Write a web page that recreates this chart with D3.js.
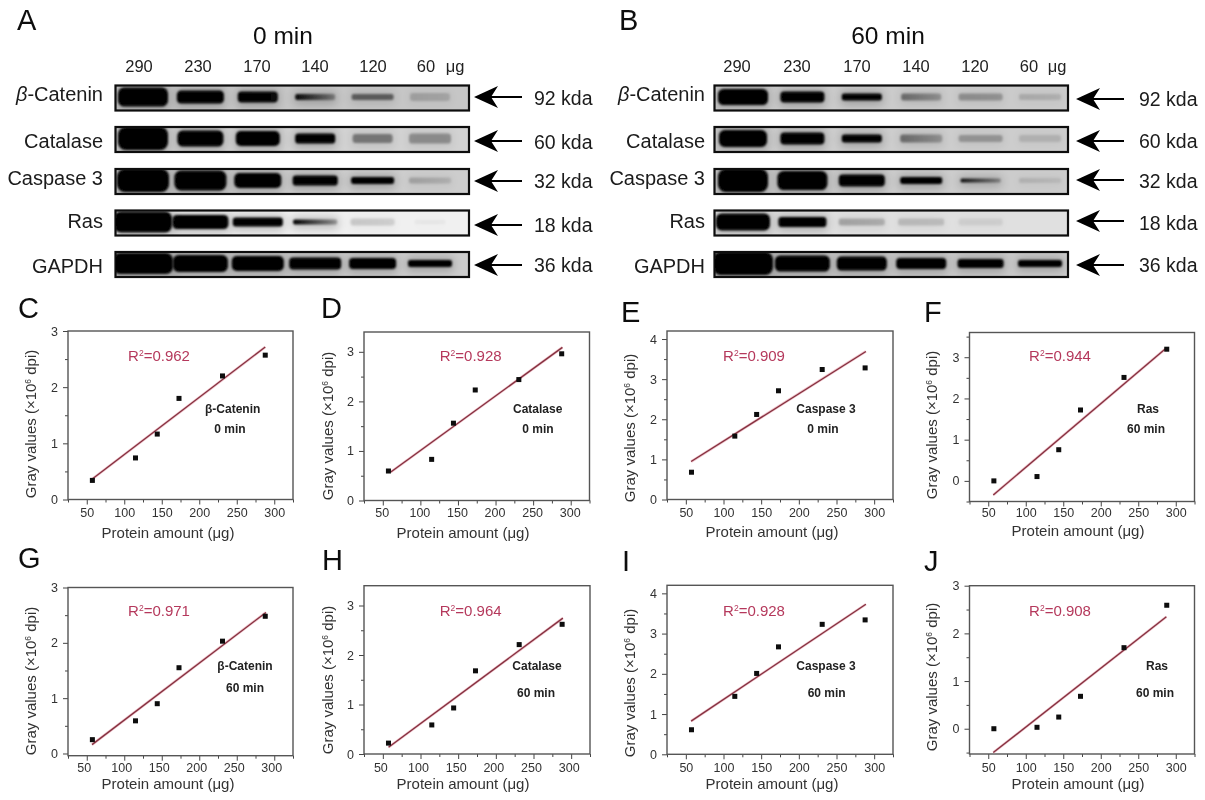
<!DOCTYPE html>
<html><head><meta charset="utf-8">
<script src="https://cdnjs.cloudflare.com/ajax/libs/d3/7.8.5/d3.min.js"></script>
<style>html,body{margin:0;padding:0;background:#fff}svg{display:block}text{font-family:"Liberation Sans",Arial,sans-serif}</style>
</head><body><div id="c"></div>
<script>
// ---------- Western blot data (lanes, targets, band readings) ----------
const lanes = ["290","230","170","140","120","60"];
const targets = ["β-Catenin","Catalase","Caspase 3","Ras","GAPDH"];
const weights = ["92 kda","60 kda","32 kda","18 kda","36 kda"];
const blotGray = ["#c6c6c6","#d2d2d2","#cdcdcd","#f0f0f0","#cccccc"];
const blotGrayB = ["#cbcbcb","#cdcdcd","#cccccc","#e0e0e0","#cacaca"];
// band width, thickness, darkness at left end and at right end (rows: targets, columns: lanes)
const a0Width = [[50,47,40,40,42,40],[50,46,44,40,40,42],[52,52,47,45,43,42],[58,56,50,44,44,30],[60,55,52,52,47,44]];
const a0Thick = [[19,13,11,6,6,8],[23,16,15,10,9,10],[23,20,15,10,7,6],[21,14,9,5,7,4],[21,17,15,12,11,7]];
const a0Left  = [[1,1,1,.95,.5,.18],[1,1,1,1,.4,.3],[1,1,1,1,1,.2],[1,1,1,1,.15,.04],[1,1,1,1,1,1]];
const a0Right = [[1,1,.95,.3,.5,.15],[1,1,1,1,.4,.3],[1,1,1,1,1,.12],[1,1,1,.3,.12,.04],[1,1,1,1,1,1]];
const b60Width = [[50,44,40,40,44,42],[48,44,40,42,44,42],[50,50,46,42,40,42],[54,48,46,46,44,0],[60,55,50,50,46,44]];
const b60Thick = [[16,11,7,7,7,6],[17,12,8,8,7,7],[23,19,12,7,4,5],[17,10,7,7,7,0],[23,16,14,11,9,7]];
const b60Left  = [[1,1,1,.45,.28,.15],[1,1,1,.45,.25,.12],[1,1,1,1,.9,.12],[1,1,.25,.16,.07,0],[1,1,1,1,1,1]];
const b60Right = [[1,1,1,.25,.25,.12],[1,1,1,.25,.25,.12],[1,1,1,1,.3,.08],[1,1,.2,.14,.07,0],[1,1,1,1,1,1]];

// ---------- Scatter data ----------
const proteinAmount = [57.5,115,144,173,231,288];
const cValues = [0.34,0.74,1.165,1.80,2.20,2.57];
const dValues = [0.595,0.83,1.56,2.23,2.44,2.96];
const eValues = [0.68,1.58,2.12,2.71,3.24,3.28];
const fValues = [0.0,0.105,0.756,1.72,2.51,3.195];
const gValues = [0.25,0.59,0.90,1.55,2.03,2.48];
const hValues = [0.22,0.587,0.93,1.68,2.21,2.62];
const iValues = [0.61,1.44,2.01,2.67,3.23,3.34];
const jValues = [0.0,0.03,0.245,0.68,1.70,2.59];
const fitEnds = [[56,0.35,288,2.715],[60.7,0.574,289,3.09],[57,0.946,289,3.69],[56.7,-0.34,286.7,3.21],
                 [57,0.16,289,2.55],[57.6,0.135,289,2.745],[57,0.825,289,3.73],[56.7,-0.5,287.5,2.35]];
const panelLetters = ["C","D","E","F","G","H","I","J"];
const panelValues = [cValues,dValues,eValues,fValues,gValues,hValues,iValues,jValues];
const rSquared = ["0.962","0.928","0.909","0.944","0.971","0.964","0.928","0.908"];
const panelTarget = ["β-Catenin","Catalase","Caspase 3","Ras","β-Catenin","Catalase","Caspase 3","Ras"];
const panelTime = ["0 min","0 min","0 min","60 min","60 min","60 min","60 min","60 min"];
const yDomains = [[0,3],[0,3.4],[0,4.2],[-0.5,3.6],[-0.04,3],[0,3.4],[0,4.2],[-0.53,3]];
const yMajor = [[0,1,2,3],[0,1,2,3],[0,1,2,3,4],[0,1,2,3],[0,1,2,3],[0,1,2,3],[0,1,2,3,4],[0,1,2,3]];
const yMinor = [[0.5,1.5,2.5],[0.5,1.5,2.5],[0.5,1.5,2.5,3.5],[-0.5,0.5,1.5,2.5,3.5],[0.5,1.5,2.5],[0.5,1.5,2.5],[0.5,1.5,2.5,3.5],[-0.5,0.5,1.5,2.5]];
const xMajor = [50,100,150,200,250,300];
const xMinor = [25,75,125,175,225,275,325];

// ---------- Layout (pixels) ----------
const W=1205,H=800;
const frames=[[68,293,331,499.5],[364,589.5,332,500.5],[667,893,331,499.5],[969.5,1194.5,332.5,501.5],
              [68,293,587.5,755.7],[364,590,585.7,754],[667,893,585.3,754.3],[969.5,1194.5,585.7,754]];
const letterPos=[[18,318],[321,318],[621,322],[924,322],[18,568],[322,570],[622,571],[924,571]];
const r2Pos=[[159,356],[470.7,356],[754,356],[1060,356],[159,611],[470.7,611],[754,611],[1060,611]];
const notePos=[[232.7,409,230,429],[537.7,409,538,429],[826,409,823,429],[1148,409,1146,429],
               [245,666,245,688],[537,666,536,693],[826,666,826.7,693],[1157,666,1155,693]];
const xTitlePos=[[168,532.5],[463,532.5],[772,532],[1078,531],[168,784],[463,784],[772,784],[1078,784]];
const yTitlePos=[[31,424],[328,426],[630,428],[932,425],[31,681],[328,680],[630,683],[932,677]];
const xLabelShift=[0,-1,0,0,-3,-2.5,0,0];
const xLabelCenter=[514,514,514,514,769,769,769,769];
const blotRows=[[85.5,110.5],[127,152],[169,194],[210.5,235.5],[252,277]];

const svg=d3.select("#c").append("svg").attr("width",W).attr("height",H).attr("viewBox",[0,0,W,H]);
const defs=svg.append("defs");
const addBlur=(id,s)=>defs.append("filter").attr("id",id).attr("x","-30%").attr("y","-60%").attr("width","160%").attr("height","220%")
  .append("feGaussianBlur").attr("stdDeviation",s);
addBlur("b1",1.3); addBlur("b2",5);
defs.append("filter").attr("id","soft").attr("filterUnits","userSpaceOnUse").attr("x",0).attr("y",0).attr("width",W).attr("height",H)
  .append("feGaussianBlur").attr("stdDeviation",0.4);
const root=svg.append("g").attr("filter","url(#soft)");
root.append("rect").attr("width",W).attr("height",H).attr("fill","#fff");

function blot(o){
  const lane=d3.scalePoint().domain(lanes).range(o.laneRange);
  const g=root.append("g");
  g.append("text").attr("x",o.letterX).attr("y",30).attr("font-size",29).attr("fill","#111").text(o.letter);
  g.append("text").attr("x",o.titleX).attr("y",44).attr("text-anchor","middle").attr("font-size",24.5).attr("fill","#111").text(o.title);
  g.selectAll(".lane").data(lanes).join("text").attr("text-anchor","middle").attr("font-size",16.5).attr("fill","#222")
    .attr("x",(d,i)=>o.labelX[i]).attr("y",72).text(d=>d);
  g.append("text").attr("x",o.ugX).attr("y",72).attr("text-anchor","middle").attr("font-size",16.5).attr("fill","#222").text("μg");
  targets.forEach((t,r)=>{
    const [y0,y1]=blotRows[r], cy=(y0+y1)/2;
    const id="clip"+o.letter+r;
    defs.append("clipPath").attr("id",id).append("rect").attr("x",o.x0).attr("y",y0).attr("width",o.x1-o.x0).attr("height",y1-y0);
    const row=g.append("g");
    const inner=row.append("g").attr("clip-path",`url(#${id})`);
    inner.append("rect").attr("x",o.x0).attr("y",y0).attr("width",o.x1-o.x0).attr("height",y1-y0).attr("fill",o.gray[r]);
    const bands=lanes.map((l,i)=>({l,i,w:o.width[r][i],t:o.thick[r][i],a:o.left[r][i],b:o.right[r][i]})).filter(d=>d.w>0);
    bands.forEach(d=>{
      const gid=`g${o.letter}${r}${d.i}`;
      const lg=defs.append("linearGradient").attr("id",gid);
      lg.append("stop").attr("offset","0%").attr("stop-color","#050505").attr("stop-opacity",d.a);
      lg.append("stop").attr("offset","100%").attr("stop-color","#050505").attr("stop-opacity",d.b);
    });
    inner.selectAll(".halo").data(bands).join("rect").attr("filter","url(#b2)").attr("fill","#000")
      .attr("opacity",d=>0.22*Math.max(d.a,d.b))
      .attr("x",d=>lane(d.l)-d.w/2-1).attr("width",d=>d.w+2)
      .attr("y",d=>cy-d.t/2-3).attr("height",d=>d.t+6);
    inner.selectAll(".band").data(bands).join("rect").attr("filter","url(#b1)")
      .attr("fill",d=>`url(#g${o.letter}${r}${d.i})`)
      .attr("x",d=>lane(d.l)-d.w/2).attr("width",d=>d.w)
      .attr("y",d=>cy-d.t/2-1).attr("height",d=>d.t)
      .attr("rx",d=>d.t/3);
    row.append("rect").attr("x",o.x0).attr("y",y0).attr("width",o.x1-o.x0).attr("height",y1-y0)
      .attr("fill","none").attr("stroke","#0a0a0a").attr("stroke-width",2.2);
    // target label
    const tl=g.append("text").attr("x",o.labelRight).attr("y",o.rowLabelY[r]+6.5).attr("text-anchor","end").attr("font-size",20).attr("fill","#1a1a1a");
    if(t.startsWith("β")){tl.append("tspan").attr("font-style","italic").text("β");tl.append("tspan").text(t.slice(1));}
    else tl.text(t);
    // arrow
    const ay=o.arrowY[r], ax=o.arrowX;
    g.append("line").attr("x1",ax+12).attr("x2",ax+48).attr("y1",ay).attr("y2",ay).attr("stroke","#000").attr("stroke-width",2);
    g.append("path").attr("fill","#000").attr("d",d3.line()([[ax,ay],[ax+24,ay-11],[ax+17,ay],[ax+24,ay+11]])+"Z");
    g.append("text").attr("x",o.kdaX).attr("y",o.kdaY[r]+6.5).attr("font-size",19.5).attr("fill","#1a1a1a").text(weights[r]);
  });
}
blot({letter:"A",letterX:17,title:"0 min",titleX:283,x0:115.5,x1:469,laneRange:[143,430],
  labelX:[139,198,257,315,373,426],ugX:455,gray:blotGray,width:a0Width,thick:a0Thick,left:a0Left,right:a0Right,
  labelRight:103,rowLabelY:[94,141,178,221,266],arrowX:474,arrowY:[97,141,181,225,265],kdaX:534,kdaY:[98,142,181,225,265]});
blot({letter:"B",letterX:619,title:"60 min",titleX:888,x0:714.5,x1:1068,laneRange:[743,1040],
  labelX:[737,797,857,916,975,1029],ugX:1057,gray:blotGrayB,width:b60Width,thick:b60Thick,left:b60Left,right:b60Right,
  labelRight:705,rowLabelY:[94,141,178,221,266],arrowX:1076,arrowY:[99,141,180,221,265],kdaX:1139,kdaY:[99,141,181,223,265]});

panelLetters.forEach((letter,p)=>{
  const [l,r,t,b]=frames[p];
  const x=d3.scaleLinear().domain([25,325]).range([l,r]);
  const y=d3.scaleLinear().domain(yDomains[p]).range([b,t]);
  const g=root.append("g");
  g.append("text").attr("x",letterPos[p][0]).attr("y",letterPos[p][1]).attr("font-size",29).attr("fill","#111").text(letter);

  const ax=g.append("g").attr("transform",`translate(0,${b})`).call(d3.axisBottom(x).tickValues(xMajor).tickSize(5).tickPadding(xLabelCenter[p]-b-11).tickFormat(d3.format("d")));
  ax.selectAll("text").attr("font-size",12.5).attr("fill","#333").attr("dx",xLabelShift[p]);
  const axm=g.append("g").attr("transform",`translate(0,${b})`).call(d3.axisBottom(x).tickValues(xMinor).tickSize(3).tickFormat(""));
  const ay=g.append("g").attr("transform",`translate(${l},0)`).call(d3.axisLeft(y).tickValues(yMajor[p]).tickSize(5).tickPadding(5).tickFormat(d3.format("d")));
  ay.selectAll("text").attr("font-size",12.5).attr("fill","#333");
  const aym=g.append("g").attr("transform",`translate(${l},0)`).call(d3.axisLeft(y).tickValues(yMinor[p]).tickSize(3).tickFormat(""));
  [ax,axm,ay,aym].forEach(a=>{a.select(".domain").remove();a.selectAll("line").attr("stroke","#444").attr("stroke-width",1);});

  g.append("rect").attr("x",l).attr("y",t).attr("width",r-l).attr("height",b-t).attr("fill","none").attr("stroke","#555").attr("stroke-width",1.4);

  const [x1,y1,x2,y2]=fitEnds[p];
  const line=g.append("g");
  line.append("line").attr("x1",x(x1)).attr("y1",y(y1)).attr("x2",x(x2)).attr("y2",y(y2)).attr("stroke","#e59aa8").attr("stroke-width",2.6).attr("opacity",.6);
  line.append("line").attr("x1",x(x1)).attr("y1",y(y1)).attr("x2",x(x2)).attr("y2",y(y2)).attr("stroke","#84303f").attr("stroke-width",1.3);

  g.selectAll(".pt").data(proteinAmount.map((a,i)=>[a,panelValues[p][i]])).join("rect")
    .attr("x",d=>x(d[0])-2.5).attr("y",d=>y(d[1])-2.5).attr("width",5).attr("height",5).attr("fill","#0a0a0a");

  const rt=g.append("text").attr("x",r2Pos[p][0]).attr("y",r2Pos[p][1]+5).attr("text-anchor","middle").attr("font-size",15).attr("fill","#b5395c");
  rt.append("tspan").text("R");
  rt.append("tspan").attr("font-size",8.5).attr("dy",-5).text("2");
  rt.append("tspan").attr("dy",5).text("="+rSquared[p]);

  const [n1x,n1y,n2x,n2y]=notePos[p];
  g.append("text").attr("x",n1x).attr("y",n1y+4).attr("text-anchor","middle").attr("font-size",12).attr("font-weight","bold").attr("fill","#222").text(panelTarget[p]);
  g.append("text").attr("x",n2x).attr("y",n2y+4).attr("text-anchor","middle").attr("font-size",12).attr("font-weight","bold").attr("fill","#222").text(panelTime[p]);

  g.append("text").attr("x",xTitlePos[p][0]).attr("y",xTitlePos[p][1]+5).attr("text-anchor","middle").attr("font-size",15).attr("fill","#333").text("Protein amount (μg)");
  const yt=g.append("text").attr("transform",`translate(${yTitlePos[p][0]+5},${yTitlePos[p][1]}) rotate(-90)`).attr("text-anchor","middle").attr("font-size",15).attr("fill","#333");
  yt.append("tspan").text("Gray values (×10");
  yt.append("tspan").attr("font-size",8.5).attr("dy",-5).text("6");
  yt.append("tspan").attr("dy",5).text(" dpi)");
});
</script></body></html>
